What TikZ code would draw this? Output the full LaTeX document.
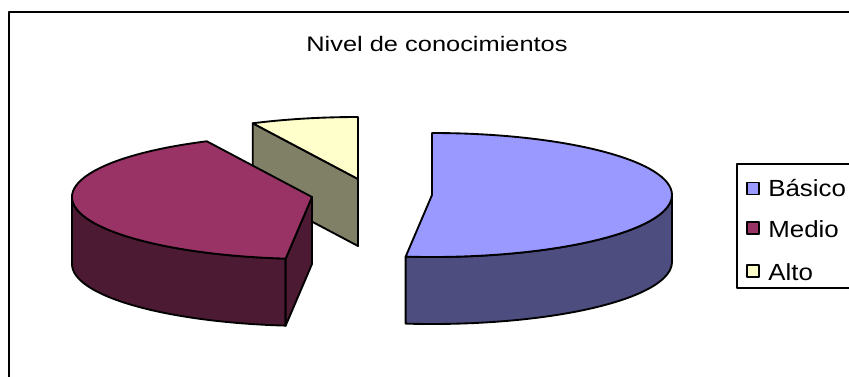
\documentclass[tikz,border=0pt]{standalone}
\usepackage{fontspec}
\setmainfont{Liberation Sans}
\definecolor{basTop}{HTML}{9999FF}
\definecolor{basSide}{HTML}{4D4D80}
\definecolor{medTop}{HTML}{993366}
\definecolor{medSide}{HTML}{4D1A33}
\definecolor{altTop}{HTML}{FFFFCC}
\definecolor{altSide}{HTML}{808066}
\tikzset{slice/.style={draw=black, line width=1.4pt},
	legsq/.style={draw=black, line width=1.1pt, minimum size=9pt, inner sep=0pt},
	legtxt/.style={inner sep=0pt, font=\fontsize{17.5}{20}\selectfont}}
\begin{document}
\begin{tikzpicture}[x=.75pt, y=.75pt, line join=round, line cap=round]
	\def\a{240} \def\b{62} \def\h{67}
	\clip (0,0) rectangle (849,-376);
	\draw[line width=1.5pt] (8.5,-400)--(8.5,-12)--(900,-12);
	\node[anchor=base, inner sep=0pt, font=\fontsize{15.75}{18}\selectfont] (title) at (437,-51.7) {\scalebox{1.21}[1]{Nivel de conocimientos}};
	% Alto
	\coordinate (cA) at (358,-179); \coordinate (cAd) at (358,-246);
	\filldraw[slice, fill=altSide] (cA)--++(116:{\a} and {\b})--++(0,-\h)--(cAd)--cycle;
	\filldraw[slice, fill=altTop] (cA)--++(90:{\a} and {\b}) arc[start angle=90, end angle=116, x radius=\a, y radius=\b]--cycle;
	% Medio
	\coordinate (cM) at (312,-197); \coordinate (cMd) at (312,-264);
	\filldraw[slice, fill=medSide] (cM) ++(180:{\a} and {\b}) arc[start angle=180, end angle=263.7, x radius=\a, y radius=\b]--++(0,-\h)
		arc[start angle=263.7, end angle=180, x radius=\a, y radius=\b]--cycle;
	\filldraw[slice, fill=medSide] (cM)--++(263.7:{\a} and {\b})--++(0,-\h)--(cMd)--cycle;
	\filldraw[slice, fill=medTop] (cM)--++(116:{\a} and {\b}) arc[start angle=116, end angle=263.7, x radius=\a, y radius=\b]--cycle;
	% Basico
	\coordinate (cB) at (432,-195);
	\filldraw[slice, fill=basSide] (cB) ++(-96.3:{\a} and {\b}) arc[start angle=-96.3, end angle=0, x radius=\a, y radius=\b]--++(0,-\h)
		arc[start angle=0, end angle=-96.3, x radius=\a, y radius=\b]--cycle;
	\filldraw[slice, fill=basTop] (cB)--++(90:{\a} and {\b}) arc[start angle=90, end angle=-96.3, x radius=\a, y radius=\b]--cycle;
	% legend
	\draw[line width=1.5pt] (737,-164) rectangle (900,-288);
	\foreach \i/\txt/\col/\yc/\yb in {1/Básico/basTop/188.7/196,2/Medio/medTop/228/237.3,3/Alto/altTop/270.8/280}{
		\node[legsq, fill=\col] (sq\i) at (753,-\yc) {};
		\node[legtxt, anchor=base west] (lab\i) at (768,-\yb) {\scalebox{1.11}[1]{\txt}};
	}
\end{tikzpicture}
\end{document}
